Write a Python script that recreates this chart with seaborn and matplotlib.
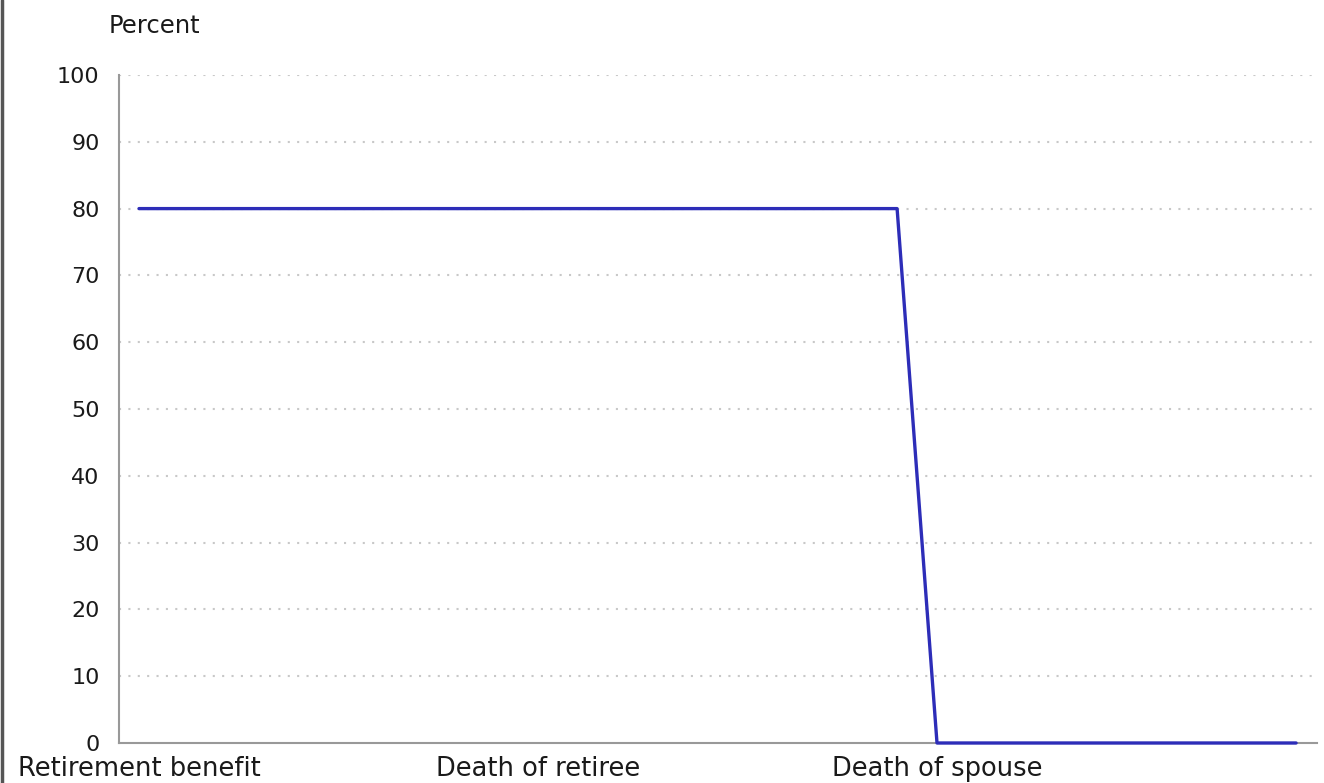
import matplotlib
matplotlib.use("Agg")
import matplotlib.pyplot as plt
import seaborn as sns
import pandas as pd
from matplotlib.lines import Line2D

# dados
etapas = ["Retirement benefit", "Death of retiree", "Death of spouse"]
pos_x = [0, 1.9, 2, 2.9]
percentual = [80, 80, 0, 0]
ticks_y = [0, 10, 20, 30, 40, 50, 60, 70, 80, 90, 100]

df = pd.DataFrame({"x": pos_x, "pct": percentual})

sns.set_style("white")
plt.rcParams["font.family"] = ["DejaVu Sans"]

fig = plt.figure(figsize=(13.24, 7.83), dpi=100)
ax = fig.add_axes([119 / 1324, 1 - 743 / 783, (1317 - 119) / 1324, (743 - 75) / 783])

sns.lineplot(data=df, x="x", y="pct", ax=ax, color="#2d2db8", linewidth=2.4, sort=False)
for ln in ax.lines:
    ln.set_clip_on(False)
    ln.set_zorder(4)

ax.set_xlim(-20 / 399, (1317 - 139) / 399)
ax.set_ylim(0, 100)
ax.set_xticks(range(len(etapas)))
ax.set_xticklabels(etapas)
ax.set_yticks(ticks_y)
ax.set_xlabel("")
ax.set_ylabel("")

for yv in ticks_y[1:]:
    ax.axhline(yv, color="#c8c8c8", linewidth=1.5, linestyle=(0, (1, 3.5)), zorder=0)

for lado in ["top", "right"]:
    ax.spines[lado].set_visible(False)
for lado in ["left", "bottom"]:
    ax.spines[lado].set_color("#999999")
    ax.spines[lado].set_linewidth(1.5)

ax.tick_params(axis="y", length=7, width=1.2, color="#bccbdb", pad=7, labelsize=16, labelcolor="#1a1a1a")
ax.tick_params(axis="x", length=7, width=1.2, color="#bccbdb", pad=2, labelsize=18.5, labelcolor="#1a1a1a")

fig.text(109 / 1324, 1 - 33 / 783, "Percent", fontsize=17.5, color="#1a1a1a", va="baseline")

# borda escura na esquerda
fig.add_artist(Line2D([0.0015, 0.0015], [0, 1], transform=fig.transFigure, color="#555555", linewidth=2.5))

fig.savefig("out.png", dpi=100)
